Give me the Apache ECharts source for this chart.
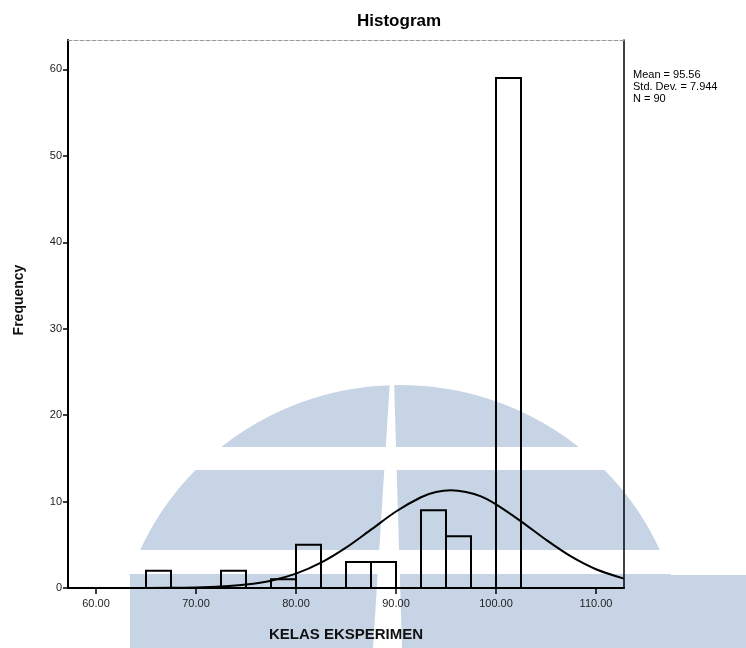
<!DOCTYPE html>
<html>
<head>
<meta charset="utf-8">
<script src="https://cdn.jsdelivr.net/npm/echarts@6/dist/echarts.min.js"></script>
<style>
  html, body { margin: 0; padding: 0; background: #fff; }
  #container { width: 746px; height: 648px; }
</style>
</head>
<body>
<div id="container"></div>
<script>
// histogram bins (lower edge) and counts, bin width 2.5
const binStarts = [65, 72.5, 77.5, 80, 85, 87.5, 92.5, 95, 100];
const frequencies = [2, 2, 1, 5, 3, 3, 9, 6, 59];
const binWidth = 2.5;

// normal curve
const curveX = [57.5, 62.5, 67.5, 70, 72.5, 75, 77.5, 80, 82.5, 85, 87.5, 90, 92.5, 94, 95.5, 97, 98.5, 100, 102.5, 105, 107.5, 110, 112.8];
const curveY = [0, 0, 0.02, 0.06, 0.17, 0.4, 0.85, 1.66, 2.93, 4.67, 6.75, 8.85, 10.5, 11.1, 11.3, 11.1, 10.6, 9.67, 7.71, 5.58, 3.65, 2.17, 1.08];

const xTicks = [60, 70, 80, 90, 100, 110];
const yTicks = [0, 10, 20, 30, 40, 50, 60];

const stats = ['Mean = 95.56', 'Std. Dev. = 7.944', 'N = 90'];

const FONT = 'Liberation Sans, Arial, sans-serif';
const WM = '#c6d4e5';

let dom = document.getElementById('container');
let myChart = echarts.init(dom);

let histData = binStarts.map((s, i) => [s, s + binWidth, frequencies[i]]);
let curveData = curveX.map((x, i) => [x, curveY[i]]);

// watermark dome (background decoration), cut at the lower band
let dome = [];
for (let a = 0; a <= 180; a += 3) {
    let t = a * Math.PI / 180;
    dome.push([400 - 285 * Math.cos(t), Math.min(575, 665 - 280 * Math.sin(t))]);
}

let option = {
    animation: false,
    backgroundColor: '#fff',
    title: [
        {
            text: 'Histogram',
            left: 352,
            top: 8,
            textStyle: { fontFamily: FONT, fontSize: 17, fontWeight: 'bold', color: '#000' }
        },
        {
            text: stats.join('\n'),
            left: 628,
            top: 64,
            textStyle: { fontFamily: FONT, fontSize: 11, fontWeight: 'normal', color: '#000', lineHeight: 12 }
        }
    ],
    graphic: [
        { type: 'polygon', z: -10, shape: { points: dome }, style: { fill: WM } },
        { type: 'rect', z: -10, shape: { x: 130, y: 575, width: 616, height: 73 }, style: { fill: WM } },
        { type: 'rect', z: -9, shape: { x: 90, y: 447, width: 656, height: 23 }, style: { fill: '#fff' } },
        { type: 'rect', z: -9, shape: { x: 90, y: 550, width: 656, height: 24 }, style: { fill: '#fff' } },
        { type: 'polygon', z: -9, shape: { points: [[390, 380], [394, 380], [402, 648], [373, 648]] }, style: { fill: '#fff' } }
    ],
    grid: {
        left: 68,
        right: 122,
        top: 40,
        bottom: 60
    },
    xAxis: [
        {
            type: 'value',
            min: 57.2,
            max: 112.8,
            position: 'bottom',
            name: 'KELAS EKSPERIMEN',
            nameLocation: 'middle',
            nameGap: 39,
            nameTextStyle: { fontFamily: FONT, fontSize: 15, fontWeight: 'bold', color: '#111' },
            axisLine: { onZero: false, lineStyle: { color: '#000', width: 2 } },
            axisTick: { customValues: xTicks, length: 6, lineStyle: { color: '#000', width: 1.5 } },
            axisLabel: {
                customValues: xTicks,
                formatter: v => v.toFixed(2),
                fontFamily: FONT,
                fontSize: 11,
                color: '#222',
                margin: 10
            },
            splitLine: { show: false }
        },
        {
            type: 'value',
            min: 57.2,
            max: 112.8,
            position: 'top',
            axisLine: { onZero: false, lineStyle: { color: '#999', width: 1, type: 'dashed' } },
            axisTick: { show: false },
            axisLabel: { show: false },
            splitLine: { show: false }
        }
    ],
    yAxis: [
        {
            type: 'value',
            min: 0,
            max: 63.4,
            interval: 10,
            name: 'Frequency',
            nameLocation: 'middle',
            nameGap: 42,
            nameTextStyle: { fontFamily: FONT, fontSize: 14, fontWeight: 'bold', color: '#111', padding: [0, 0, 0, 28] },
            axisLine: { onZero: false, lineStyle: { color: '#000', width: 2 } },
            axisTick: { customValues: yTicks, length: 5, lineStyle: { color: '#000', width: 1.5 } },
            axisLabel: { customValues: yTicks, fontFamily: FONT, fontSize: 11, color: '#222', margin: 6 },
            splitLine: { show: false }
        },
        {
            type: 'value',
            min: 0,
            max: 63.4,
            position: 'right',
            axisLine: { onZero: false, lineStyle: { color: '#000', width: 1.5 } },
            axisTick: { show: false },
            axisLabel: { show: false },
            splitLine: { show: false }
        }
    ],
    series: [
        {
            type: 'custom',
            z: 3,
            encode: { x: [0, 1], y: 2 },
            data: histData,
            renderItem: function (params, api) {
                let p0 = api.coord([api.value(0), api.value(2)]);
                let p1 = api.coord([api.value(1), 0]);
                return {
                    type: 'rect',
                    shape: { x: p0[0], y: p0[1], width: p1[0] - p0[0], height: p1[1] - p0[1] },
                    style: { fill: 'none', stroke: '#000', lineWidth: 2 }
                };
            }
        },
        {
            type: 'line',
            z: 4,
            data: curveData,
            smooth: 0.3,
            symbol: 'none',
            lineStyle: { color: '#000', width: 2 }
        }
    ]
};
myChart.setOption(option);
</script>
</body>
</html>
